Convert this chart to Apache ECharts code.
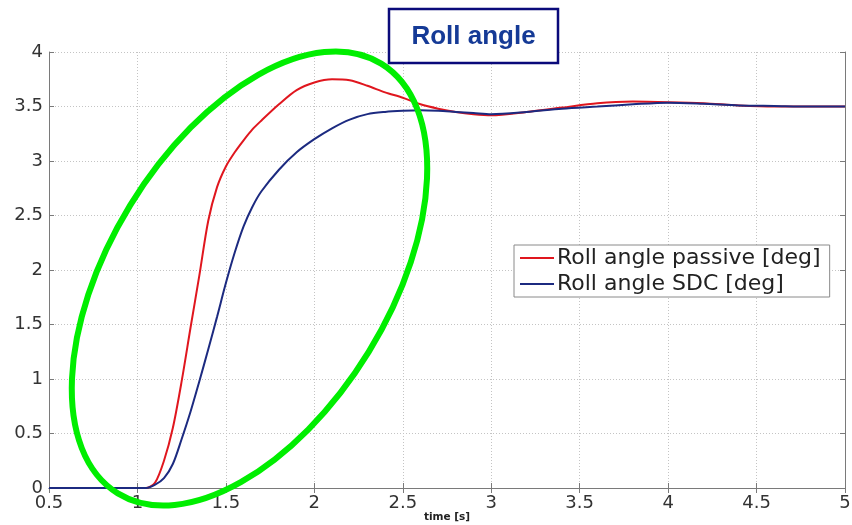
<!DOCTYPE html>
<html>
<head>
<meta charset="utf-8">
<script src="https://cdn.jsdelivr.net/npm/echarts@6/dist/echarts.min.js"></script>
<style>
html,body{margin:0;padding:0;background:#fff;}
#chart{width:852px;height:525px;}
</style>
</head>
<body>
<div id="chart"></div>
<script>
const timeS = [0.5, 1.0, 1.05, 1.1, 1.15, 1.2, 1.25, 1.3, 1.35, 1.4, 1.45, 1.5, 1.55, 1.6, 1.65, 1.7, 1.8, 1.9, 2.0, 2.1, 2.2, 2.3, 2.4, 2.5, 2.6, 2.7, 2.8, 2.9, 3.0, 3.2, 3.4, 3.6, 3.8, 4.0, 4.2, 4.4, 4.6, 4.8, 5.0];
const rollPassive = [0, 0, 0, 0.05, 0.25, 0.55, 0.98, 1.47, 1.95, 2.45, 2.76, 2.95, 3.08, 3.19, 3.29, 3.37, 3.52, 3.65, 3.72, 3.75, 3.74, 3.69, 3.63, 3.58, 3.52, 3.48, 3.45, 3.43, 3.42, 3.45, 3.49, 3.53, 3.545, 3.54, 3.53, 3.51, 3.5, 3.5, 3.5];
const rollSDC = [0, 0, 0, 0.03, 0.09, 0.22, 0.45, 0.7, 0.98, 1.27, 1.57, 1.88, 2.16, 2.4, 2.58, 2.72, 2.92, 3.08, 3.2, 3.3, 3.38, 3.43, 3.45, 3.46, 3.465, 3.46, 3.45, 3.44, 3.43, 3.45, 3.48, 3.5, 3.52, 3.535, 3.525, 3.51, 3.505, 3.5, 3.5];
const seriesNames = ['Roll angle passive [deg]', 'Roll angle SDC [deg]'];
const titleText = 'Roll angle';
const xName = 'time [s]';

const chart = echarts.init(document.getElementById('chart'));
const axisCol = '#7a7a7a';
const labelFont = {fontFamily: 'DejaVu Sans', fontSize: 18, color: '#333'};
const baseX = {type: 'value', min: 0.5, max: 5, interval: 0.5};
const baseY = {type: 'value', min: 0, max: 4, interval: 0.5};

chart.setOption({
  animation: false,
  backgroundColor: '#ffffff',
  grid: {left: 49, right: 7, top: 52, bottom: 37, show: false, containLabel: false, outerBoundsMode: 'none'},
  xAxis: [
    Object.assign({}, baseX, {
      position: 'bottom',
      name: xName, nameLocation: 'middle', nameGap: 24, nameMoveOverlap: false,
      nameTextStyle: {fontFamily: 'DejaVu Sans', fontSize: 10.5, fontWeight: 'bold', color: '#222'},
      axisLine: {lineStyle: {color: axisCol, width: 1}},
      axisTick: {inside: true, length: 5, lineStyle: {color: axisCol}},
      axisLabel: Object.assign({margin: 6, showMinLabel: true, showMaxLabel: true}, labelFont),
      splitLine: {show: true, lineStyle: {color: '#c4c4c4', type: [1, 2], width: 1}}
    }),
    Object.assign({}, baseX, {
      position: 'top',
      axisLine: {lineStyle: {color: axisCol, width: 1}},
      axisTick: {inside: true, length: 5, lineStyle: {color: axisCol}},
      axisLabel: {show: false},
      splitLine: {show: false}
    })
  ],
  yAxis: [
    Object.assign({}, baseY, {
      position: 'left',
      axisLine: {show: true, lineStyle: {color: axisCol, width: 1}},
      axisTick: {show: true, inside: true, length: 5, lineStyle: {color: axisCol}},
      axisLabel: Object.assign({margin: 6}, labelFont),
      splitLine: {show: true, lineStyle: {color: '#c4c4c4', type: [1, 2], width: 1}}
    }),
    Object.assign({}, baseY, {
      position: 'right',
      axisLine: {show: true, lineStyle: {color: axisCol, width: 1}},
      axisTick: {show: true, inside: true, length: 5, lineStyle: {color: axisCol}},
      axisLabel: {show: false},
      splitLine: {show: false}
    })
  ],
  legend: {
    orient: 'vertical',
    left: 514, top: 245,
    padding: [2, 9, 2, 6],
    itemGap: 4,
    itemWidth: 34, itemHeight: 2,
    icon: 'rect',
    backgroundColor: '#fff',
    borderColor: '#8a8a8a', borderWidth: 1, borderRadius: 0,
    textStyle: {fontFamily: 'DejaVu Sans', fontSize: 22, lineHeight: 20, color: '#222', padding: [0, 0, 0, -2]},
    data: seriesNames
  },
  series: [
    {
      name: seriesNames[0], type: 'line', symbol: 'none', smooth: 0.3,
      lineStyle: {color: '#e0161e', width: 2}, itemStyle: {color: '#e0161e'},
      data: timeS.map((t, i) => [t, rollPassive[i]]), z: 3
    },
    {
      name: seriesNames[1], type: 'line', symbol: 'none', smooth: 0.3,
      lineStyle: {color: '#1c2a80', width: 2}, itemStyle: {color: '#1c2a80'},
      data: timeS.map((t, i) => [t, rollSDC[i]]), z: 4
    }
  ],
  graphic: [
    {
      type: 'ellipse', z: 100,
      shape: {cx: 0, cy: 0, rx: 252, ry: 140},
      x: 249.5, y: 278.5, rotation: 1.021,
      style: {fill: 'none', stroke: '#00ee00', lineWidth: 6}
    },
    {
      type: 'rect', z: 101,
      shape: {x: 389, y: 9, width: 169, height: 54},
      style: {fill: '#fff', stroke: '#0a0a7a', lineWidth: 2.5}
    },
    {
      type: 'text', z: 102,
      x: 473.5, y: 37,
      style: {text: titleText, font: 'bold 26px "Liberation Sans", Arial, sans-serif', fill: '#153a96', align: 'center', verticalAlign: 'middle'}
    }
  ]
});
</script>
</body>
</html>
